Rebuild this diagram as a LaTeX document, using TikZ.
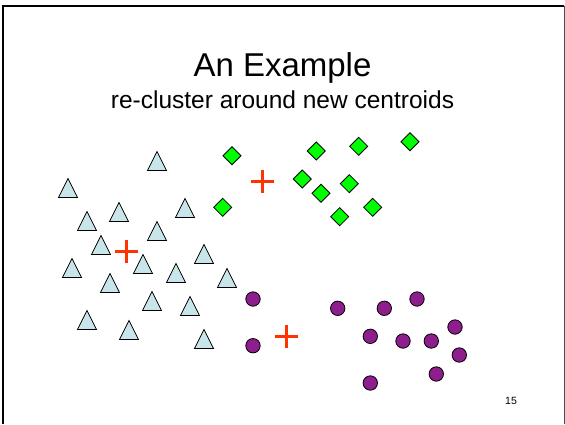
\documentclass[tikz,border=0pt]{standalone}
\usepackage{fontspec}
\setmainfont{Liberation Sans}
\definecolor{tri}{RGB}{200,230,233}
\definecolor{dia}{RGB}{0,255,0}
\definecolor{pur}{RGB}{142,30,142}
\definecolor{crs}{RGB}{255,51,0}
\begin{document}
\begin{tikzpicture}[x=1pt,y=-1pt,
  tristyle/.style={fill=tri,draw=black,line width=0.8pt,line join=miter},
  diastyle/.style={fill=dia,draw=black,line width=0.8pt},
  dotstyle/.style={fill=pur,draw=black,line width=0.8pt},
  crossstyle/.style={draw=crs,line width=3pt}]
\useasboundingbox (0,0) rectangle (565,424);
\fill[white] (0,0) rectangle (565,424);
% frame
\draw[line width=2pt,black] (3,424) -- (3,5.5) -- (564,5.5);
\draw[line width=0.8pt,black!70] (564,5.5) -- (564,424);
% titles
\node[font=\fontsize{33}{36}\selectfont,anchor=base] (title) at (282.5,76) {An Example};
\node[font=\fontsize{24.5}{28}\selectfont,anchor=base] (sub) at (282.5,108) {re-cluster around new centroids};
\node[font=\fontsize{10.5}{12}\selectfont] (pg) at (511,401) {15};
% triangles
\foreach \x/\y in {157/161,68/188,87/221,119/212,185/208,157/231,101/245,143/264,72/268,204/254,176/273,110/283,227/278,152/301,190/306,87/320,129/330,204/339}
  \draw[tristyle] (\x,\y-9.5) -- (\x+9.5,\y+9.5) -- (\x-9.5,\y+9.5) -- cycle;
% diamonds
\foreach \x/\y in {232/155.7,222.7/207.3,316.3/151,358.7/146.3,410/141.7,302.3/179,321/193.3,349.3/183.7,372.7/207.3,339.7/216.7}
  \draw[diastyle] (\x,\y-9) -- (\x+9,\y) -- (\x,\y+9) -- (\x-9,\y) -- cycle;
% circles
\foreach \x/\y in {253/299,253/345.7,337.7/308.3,384.3/308.3,417/299,370.3/336.3,403/341,431.3/341,455/327,459.3/355,436.3/374,370.3/383}
  \draw[dotstyle] (\x,\y) circle (7.2);
% centroids
\foreach \x/\y in {126.7/251.7,262.7/181.7,286/336.7}
  \draw[crossstyle] (\x-11.5,\y) -- (\x+11.5,\y) (\x,\y-11.5) -- (\x,\y+11.5);
\end{tikzpicture}
\end{document}
